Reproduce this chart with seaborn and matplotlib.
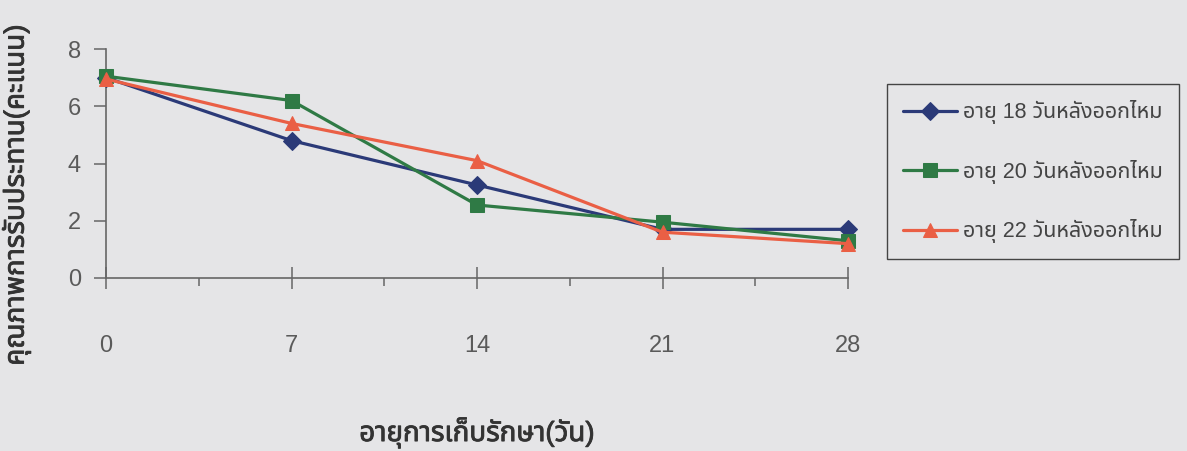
import matplotlib
matplotlib.use("Agg")
import matplotlib.pyplot as plt
import matplotlib.patheffects as pe
import seaborn as sns
import pandas as pd
from matplotlib import font_manager
from matplotlib.ft2font import FT2Font
from matplotlib.ticker import FixedLocator

# ---- data ----
days = [0, 7, 14, 21, 28]
age18 = [7.0, 4.8, 3.25, 1.7, 1.7]
age20 = [7.05, 6.2, 2.55, 1.95, 1.3]
age22 = [6.95, 5.4, 4.1, 1.6, 1.2]
series_names = ["อายุ 18 วันหลังออกไหม", "อายุ 20 วันหลังออกไหม", "อายุ 22 วันหลังออกไหม"]
x_label = "อายุการเก็บรักษา(วัน)"
y_label = "คุณภาพการรับประทาน(คะแนน)"
y_ticks = [0, 2, 4, 6, 8]

colors = ["#2b3a78", "#2f7a45", "#ea5f45"]
markers = ["D", "s", "^"]
msizes = [9, 9.5, 10.5]
bg = "#e5e5e7"


def find_thai_font():
    found = []
    for f in font_manager.fontManager.ttflist:
        try:
            cmap = FT2Font(f.fname).get_charmap()
        except Exception:
            continue
        if 0x0E2D in cmap and 0x0E38 in cmap and 0x0E4C in cmap:
            found.append(f.name)
    prefs = ["Noto Sans Thai", "Noto Sans Thai UI", "Loma", "Garuda", "Tahoma",
             "Leelawadee UI", "Sarabun", "Waree", "Norasi", "DejaVu Sans"]
    for p in prefs:
        if p in found:
            return p
    return found[0] if found else "DejaVu Sans"


sns.set_theme(style="ticks")
thai = find_thai_font()
plt.rcParams["font.family"] = ["Liberation Sans", thai, "DejaVu Sans"]

df = pd.DataFrame({
    "day": days * 3,
    "score": age18 + age20 + age22,
    "series": [series_names[0]] * 5 + [series_names[1]] * 5 + [series_names[2]] * 5,
})

fig = plt.figure(figsize=(11.87, 4.51), dpi=100, facecolor=bg)
ax = fig.add_axes([106 / 1187, 1 - 278 / 451, (848 - 106) / 1187, (278 - 49) / 451])
ax.set_facecolor(bg)

for name, c, m, ms in zip(series_names, colors, markers, msizes):
    sub = df[df["series"] == name]
    sns.lineplot(data=sub, x="day", y="score", ax=ax, color=c, marker=m,
                 markersize=ms, markeredgecolor=c, linewidth=2.3, label=name,
                 clip_on=False, zorder=3)

ax.set_xlim(0, 28)
ax.set_ylim(0, 8)
ax.xaxis.set_major_locator(FixedLocator(days))
ax.xaxis.set_minor_locator(FixedLocator([3.5, 10.5, 17.5, 24.5]))
ax.yaxis.set_major_locator(FixedLocator(y_ticks))

for s in ["top", "right"]:
    ax.spines[s].set_visible(False)
for s in ["left", "bottom"]:
    ax.spines[s].set_color("#666666")
    ax.spines[s].set_linewidth(1.2)

ax.tick_params(axis="x", which="major", direction="inout", length=16, width=1.1,
               color="#666666", pad=33, labelsize=17, labelcolor="#5a5a5a")
ax.tick_params(axis="x", which="minor", direction="out", length=6, width=1.1,
               color="#666666")
ax.tick_params(axis="y", which="major", direction="out", length=9, width=1.1,
               color="#666666", pad=9, labelsize=17, labelcolor="#5a5a5a")

ax.set_xlabel("")
ax.set_ylabel("")
bold = [pe.withStroke(linewidth=0.6, foreground="#333333")]
fig.text(477 / 1187, 1 - 432 / 451, x_label, ha="center", va="center",
         fontsize=20, color="#333333", path_effects=bold)
fig.text(16 / 1187, 1 - 195 / 451, y_label, ha="center", va="center",
         rotation=90, fontsize=20, color="#333333", path_effects=bold)

if ax.legend_:
    ax.legend_.remove()
handles, labels = ax.get_legend_handles_labels()
leg = fig.legend(handles, labels, loc="upper left",
                 bbox_to_anchor=(887 / 1187, 1 - 84 / 451),
                 frameon=True, fancybox=False, edgecolor="#444444",
                 facecolor=bg, framealpha=1, fontsize=15.5, labelspacing=1.65,
                 handlelength=2.5, handletextpad=0.3, borderpad=0.75,
                 borderaxespad=0)
leg.get_frame().set_linewidth(1.0)
for t in leg.get_texts():
    t.set_color("#444444")

fig.savefig("out.png", dpi=100, facecolor=bg)
